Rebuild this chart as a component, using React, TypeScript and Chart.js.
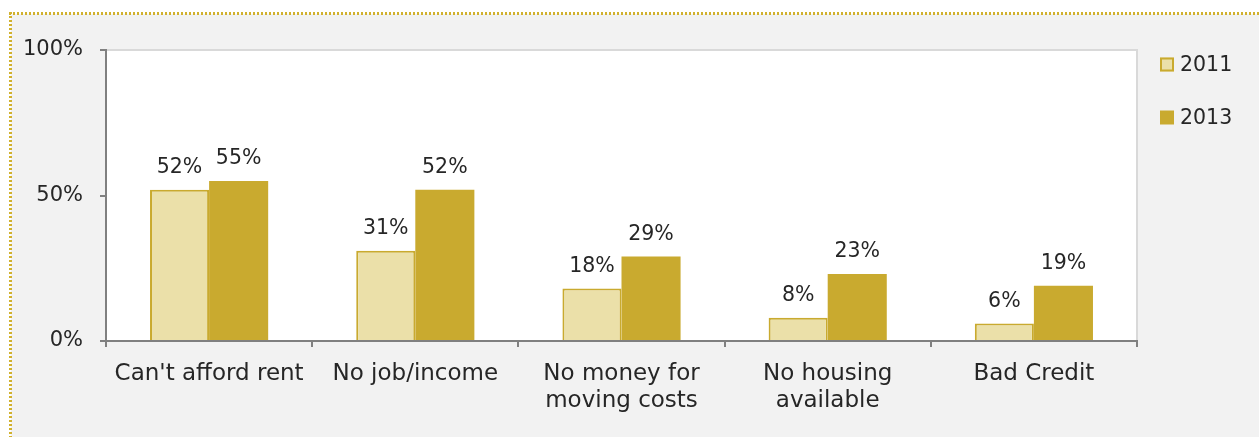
import React, { useEffect, useRef } from "react";
import { Chart, registerables } from "chart.js";

Chart.register(...registerables);

const categories: (string | string[])[] = [
  "Can't afford rent",
  "No job/income",
  ["No money for", "moving costs"],
  ["No housing", "available"],
  "Bad Credit",
];
const seriesLabels = ["2011", "2013"];
const values2011 = [52, 31, 18, 8, 6];
const values2013 = [55, 52, 29, 23, 19];
const yTickValues = [0, 50, 100];

const FONT = "'DejaVu Sans', sans-serif";
const TEXT = "#262626";
const LIGHT = "#ebe0a9";
const GOLD = "#c9aa2f";
const DOT = "#d1b12e";
const AXIS = "#808080";

const backgroundPlugin = {
  id: "bgPanel",
  beforeDraw(chart: any) {
    const { ctx, width, height, chartArea } = chart;
    ctx.save();
    ctx.fillStyle = "#ffffff";
    ctx.fillRect(0, 0, width, height);
    ctx.fillStyle = "#f2f2f2";
    ctx.fillRect(11, 14, width - 11, height - 14);
    ctx.strokeStyle = DOT;
    ctx.lineWidth = 3;
    ctx.setLineDash([2, 2]);
    ctx.beginPath();
    ctx.moveTo(9, 13.5);
    ctx.lineTo(width, 13.5);
    ctx.stroke();
    ctx.beginPath();
    ctx.moveTo(10.5, 12);
    ctx.lineTo(10.5, height);
    ctx.stroke();
    ctx.setLineDash([]);
    ctx.fillStyle = "#ffffff";
    ctx.fillRect(chartArea.left, chartArea.top, chartArea.right - chartArea.left, chartArea.bottom - chartArea.top);
    ctx.strokeStyle = "#d9d9d9";
    ctx.lineWidth = 2;
    ctx.beginPath();
    ctx.moveTo(chartArea.left, chartArea.top);
    ctx.lineTo(chartArea.right, chartArea.top);
    ctx.lineTo(chartArea.right, chartArea.bottom);
    ctx.stroke();
    ctx.restore();
  },
};

const labelPlugin = {
  id: "valueLabels",
  afterDatasetsDraw(chart: any) {
    const { ctx } = chart;
    ctx.save();
    ctx.font = `20.5px ${FONT}`;
    ctx.fillStyle = TEXT;
    ctx.textAlign = "center";
    ctx.textBaseline = "alphabetic";
    chart.data.datasets.forEach((ds: any, i: number) => {
      const meta = chart.getDatasetMeta(i);
      meta.data.forEach((bar: any, j: number) => {
        ctx.fillText(ds.data[j] + "%", bar.x, bar.y - 17);
      });
    });
    ctx.restore();
  },
};

const legendPlugin = {
  id: "sideLegend",
  afterDraw(chart: any) {
    const { ctx, chartArea } = chart;
    ctx.save();
    ctx.font = `20.5px ${FONT}`;
    ctx.textBaseline = "middle";
    ctx.textAlign = "left";
    chart.data.datasets.forEach((ds: any, i: number) => {
      const x = chartArea.right + 23;
      const cy = chartArea.top + 14.5 + i * 53;
      ctx.fillStyle = ds.backgroundColor;
      ctx.fillRect(x, cy - 7, 14, 14);
      if (ds.borderWidth) {
        ctx.strokeStyle = ds.borderColor;
        ctx.lineWidth = 2;
        ctx.strokeRect(x + 1, cy - 6, 12, 12);
      }
      ctx.fillStyle = TEXT;
      ctx.fillText(ds.label, x + 20, cy + 1);
    });
    ctx.restore();
  },
};

export default function App() {
  const ref = useRef<HTMLCanvasElement | null>(null);

  useEffect(() => {
    if (!ref.current) return;
    const chart = new Chart(ref.current, {
      type: "bar",
      data: {
        labels: categories as any,
        datasets: [
          {
            label: seriesLabels[0],
            data: values2011,
            backgroundColor: LIGHT,
            borderColor: GOLD,
            borderWidth: 2,
            categoryPercentage: 0.573,
            barPercentage: 1,
          },
          {
            label: seriesLabels[1],
            data: values2013,
            backgroundColor: GOLD,
            borderColor: GOLD,
            borderWidth: 0,
            categoryPercentage: 0.573,
            barPercentage: 1,
          },
        ],
      },
      options: {
        animation: false,
        responsive: false,
        maintainAspectRatio: false,
        layout: { padding: { top: 50, right: 122, left: 0, bottom: 0 } },
        plugins: {
          legend: { display: false },
          tooltip: { enabled: false },
        },
        scales: {
          x: {
            offset: true,
            grid: {
              offset: true,
              drawOnChartArea: false,
              drawTicks: true,
              tickLength: 6,
              color: AXIS,
              lineWidth: 2,
            },
            border: { display: true, color: AXIS, width: 2 },
            ticks: {
              color: TEXT,
              font: { family: FONT, size: 23, lineHeight: 1.17 },
              padding: 14,
              maxRotation: 0,
              autoSkip: false,
            },
            afterFit: (s: any) => {
              s.height = 96;
            },
          },
          y: {
            min: 0,
            max: 100,
            afterBuildTicks: (s: any) => {
              s.ticks = yTickValues.map((v) => ({ value: v }));
            },
            grid: {
              drawOnChartArea: false,
              drawTicks: true,
              tickLength: 6,
              color: AXIS,
              lineWidth: 2,
            },
            border: { display: true, color: AXIS, width: 2 },
            ticks: {
              color: TEXT,
              font: { family: FONT, size: 21 },
              padding: 17,
              callback: (v: any) => v + "%",
            },
            afterFit: (s: any) => {
              s.width = 106;
            },
          },
        },
      },
      plugins: [backgroundPlugin, labelPlugin, legendPlugin],
    });
    return () => chart.destroy();
  }, []);

  return (
    <div style={{ position: "absolute", left: 0, top: 0, width: 1259, height: 437 }}>
      <canvas ref={ref} width={1259} height={437} style={{ display: "block" }} />
    </div>
  );
}
